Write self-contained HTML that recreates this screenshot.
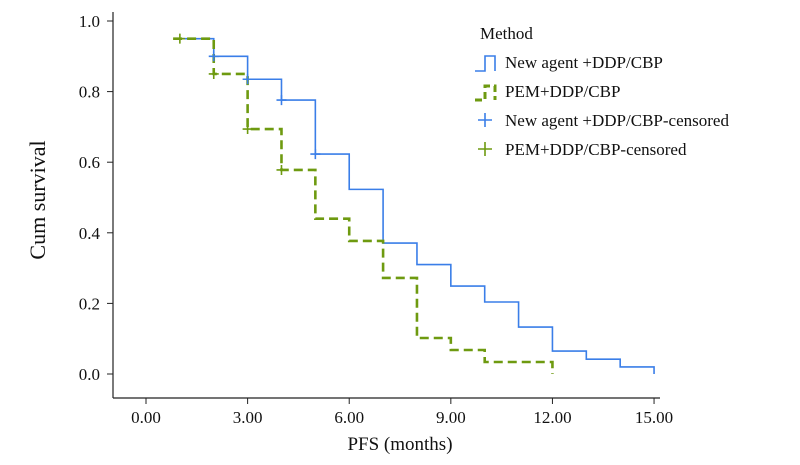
<!DOCTYPE html>
<html><head><meta charset="utf-8"><style>
body{margin:0;background:#fff}
svg text{font-family:"Liberation Serif",serif;fill:#111}
</style></head><body>
<svg width="800" height="460">
<g id="axes"></g><g id="plot"></g>
<g>
<text x="480" y="39" font-size="17">Method</text>
<path d="M475 71 L485 71 L485 56 L495 56 L495 71" fill="none" stroke="#3a7ee8" stroke-width="1.6"/>
<text x="505" y="68" font-size="17">New agent +DDP/CBP</text>
<path d="M475 100 L485 100 L485 86 L495 86 L495 100" fill="none" stroke="#6e9a10" stroke-width="3" stroke-dasharray="7,4"/>
<text x="505" y="97" font-size="17">PEM+DDP/CBP</text>
<path d="M478 120 L492 120 M485 113 L485 127" stroke="#3a7ee8" stroke-width="1.6"/>
<text x="505" y="126" font-size="17">New agent +DDP/CBP-censored</text>
<path d="M478 149 L492 149 M485 142 L485 156" stroke="#6e9a10" stroke-width="1.6"/>
<text x="505" y="155" font-size="17">PEM+DDP/CBP-censored</text>
</g>
</svg>
<script>
const xTicks=[0,3,6,9,12,15];
const yTicks=[0,0.2,0.4,0.6,0.8,1.0];
const blueTimes=[1,2,3,4,5,6,7,8,9,10,11,12,13,14,15];
const blueSurv=[0.95,0.90,0.835,0.776,0.623,0.523,0.371,0.31,0.249,0.204,0.133,0.065,0.042,0.02,0.0];
const greenTimes=[0.8,2,3,4,5,6,7,8,9,10,12];
const greenSurv=[0.95,0.85,0.694,0.578,0.44,0.377,0.272,0.102,0.068,0.034,0.0];
const blueCensT=[2,3,4,5];const blueCensS=[0.90,0.835,0.776,0.623];
const greenCensT=[1,2,3,4];const greenCensS=[0.95,0.85,0.694,0.578];
const X=m=>146+m*33.87, Y=v=>374-v*353;
const NS="http://www.w3.org/2000/svg";
function mk(t,a,p){const e=document.createElementNS(NS,t);for(const k in a)e.setAttribute(k,a[k]);p.appendChild(e);return e;}
const ax=document.getElementById('axes'),pl=document.getElementById('plot');
let e=mk('path',{d:`M113 12 L113 398 M113 398 L660 398`,stroke:'#222','stroke-width':1.2,fill:'none'},ax);


yTicks.forEach(v=>{mk('line',{x1:107,x2:113,y1:Y(v),y2:Y(v),stroke:'#222'},ax);
 const t=mk('text',{x:100,y:Y(v)+6,'font-size':17,'text-anchor':'end'},ax);t.textContent=v.toFixed(1);
 
 });
xTicks.forEach(m=>{mk('line',{x1:X(m),x2:X(m),y1:398,y2:404,stroke:'#222'},ax);
 const t=mk('text',{x:X(m),y:423,'font-size':17,'text-anchor':'middle'},ax);t.textContent=m.toFixed(2);
 
 });
let t=mk('text',{x:400,y:450,'font-size':19,'text-anchor':'middle'},ax);t.textContent='PFS (months)';


t=mk('text',{x:0,y:0,'font-size':22,'text-anchor':'middle',transform:'translate(45,200) rotate(-90)'},ax);t.textContent='Cum survival';


function step(T,S){let d=`M${X(T[0])} ${Y(S[0])}`;for(let i=1;i<T.length;i++)d+=` L${X(T[i])} ${Y(S[i-1])} L${X(T[i])} ${Y(S[i])}`;return d;}
e=mk('path',{d:step(blueTimes,blueSurv),fill:'none',stroke:'#3a7ee8','stroke-width':1.6},pl);


e=mk('path',{d:step(greenTimes,greenSurv),fill:'none',stroke:'#6e9a10','stroke-width':2.6,'stroke-dasharray':'9,5'},pl);


function cens(T,S,c,n){T.forEach((m,i)=>{const x=X(m),y=Y(S[i]);
 const p=mk('path',{d:`M${x-5} ${y} L${x+5} ${y} M${x} ${y-5} L${x} ${y+5}`,stroke:c,'stroke-width':1.6},pl);
 
 });}
cens(blueCensT,blueCensS,'#3a7ee8','new-agent-censor-mark');
cens(greenCensT,greenCensS,'#6e9a10','pem-censor-mark');
</script>
</body></html>
